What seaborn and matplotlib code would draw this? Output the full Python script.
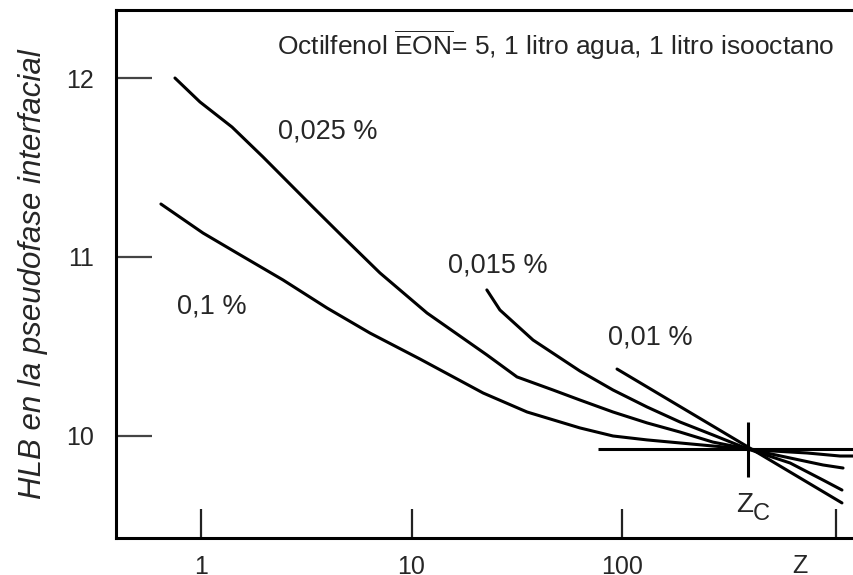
import numpy as np
import pandas as pd
import matplotlib
matplotlib.use("Agg")
import matplotlib.pyplot as plt
import seaborn as sns

# ------------------------------------------------------------
# Datos (Z en escala log, HLB interfacial)
# ------------------------------------------------------------
z_01 = [0.645, 1.022, 1.483, 2.45, 3.97, 6.35, 10.97, 21.9, 35.4, 63.1, 90.6,
        131.5, 188.6, 270, 397, 522, 757, 1086, 1265]
hlb_01 = [11.296, 11.134, 11.022, 10.872, 10.715, 10.575, 10.430, 10.240, 10.134,
          10.045, 10.0, 9.978, 9.961, 9.944, 9.927, 9.916, 9.905, 9.888, 9.888]

z_0025 = [0.752, 0.989, 1.404, 1.970, 3.40, 4.73, 7.08, 11.85, 22.8, 31.7, 47.0,
          63.1, 90.6, 131.5, 188.6, 270, 397, 629, 901, 1122]
hlb_0025 = [12.0, 11.866, 11.726, 11.559, 11.279, 11.112, 10.911, 10.687, 10.453,
            10.330, 10.257, 10.201, 10.134, 10.073, 10.022, 9.966, 9.927, 9.877,
            9.838, 9.821]

z_0015 = [22.8, 26.3, 37.8, 63.1, 90.6, 131.5, 188.6, 270, 397, 629, 901, 1109]
hlb_0015 = [10.816, 10.704, 10.536, 10.363, 10.257, 10.162, 10.078, 10.006, 9.927,
            9.849, 9.754, 9.698]

z_001 = [94.7, 1109]
hlb_001 = [10.374, 9.626]

series = ["0,1 %", "0,025 %", "0,015 %", "0,01 %"]

# punto crítico Zc y líneas de referencia
z_c = 397
hlb_c = 9.927
z_horiz = [76.9, 2000]
hlb_vert = [9.771, 10.078]

# posiciones de las etiquetas de cada curva
label_z = [0.769, 2.32, 14.9, 85.8]
label_hlb = [10.726, 11.70, 10.95, 10.553]

x_ticks = [1, 10, 100, 1040]
x_ticklabels = ["1", "10", "100", ""]
y_ticks = [10, 11, 12]

df = pd.concat([
    pd.DataFrame({"z": z_01, "hlb": hlb_01, "serie": series[0]}),
    pd.DataFrame({"z": z_0025, "hlb": hlb_0025, "serie": series[1]}),
    pd.DataFrame({"z": z_0015, "hlb": hlb_0015, "serie": series[2]}),
    pd.DataFrame({"z": z_001, "hlb": hlb_001, "serie": series[3]}),
])

sns.set_style("ticks")
plt.rcParams["font.family"] = ["Liberation Sans", "DejaVu Sans"]
plt.rcParams["mathtext.fontset"] = "custom"
plt.rcParams["mathtext.rm"] = "Liberation Sans"
plt.rcParams["mathtext.it"] = "Liberation Sans:italic"

fig = plt.figure(figsize=(8.54, 5.75), dpi=100)
ax = fig.add_axes([116 / 854, 1 - 538 / 575, (854 - 116) / 854, 528 / 575])

sns.lineplot(data=df, x="z", y="hlb", units="serie", estimator=None, sort=False,
             color="black", lw=2.2, ax=ax)

ax.hlines(hlb_c, z_horiz[0], z_horiz[1], color="black", lw=2.2)
ax.vlines(z_c, hlb_vert[0], hlb_vert[1], color="black", lw=2.2)

ax.set_xscale("log")
ax.set_xlim(0.3946, 1265)
ax.set_ylim(9.43, 12.38)

ax.set_xticks(x_ticks)
ax.set_xticklabels(x_ticklabels)
ax.minorticks_off()
ax.set_yticks(y_ticks)
ax.set_yticklabels([str(v) for v in y_ticks])

ax.tick_params(axis="y", direction="in", length=26, width=1.6, color="#444444",
               pad=16, labelsize=18)
ax.tick_params(axis="x", direction="in", length=21, width=1.6, color="#222222",
               pad=12, labelsize=18)

for lado in ["left", "top", "bottom"]:
    ax.spines[lado].set_linewidth(2.2)
    ax.spines[lado].set_color("black")
ax.spines["right"].set_visible(False)

ax.set_xlabel("")
ax.set_ylabel("HLB en la pseudofase interfacial", fontsize=22.5, style="italic")
ax.yaxis.set_label_coords(-0.092, 0.5)

for texto, zx, hy in zip(series, label_z, label_hlb):
    ax.text(zx, hy, texto, fontsize=19.5, ha="left", va="center")

# Zc: la C va como subíndice grande
ax.text(384, 9.615, "Z", fontsize=20, ha="center", va="center")
ax.text(459, 9.565, "C", fontsize=17, ha="center", va="center")
ax.text(701, -0.03, "Z", fontsize=18, ha="center", va="top",
        transform=ax.get_xaxis_transform())

ax.text(0.218, 0.934,
        r"Octilfenol $\overline{\mathregular{EON}}$= 5, 1 litro agua, 1 litro isooctano",
        fontsize=19, ha="left", va="center", transform=ax.transAxes)

fig.savefig("out.png", dpi=100)
